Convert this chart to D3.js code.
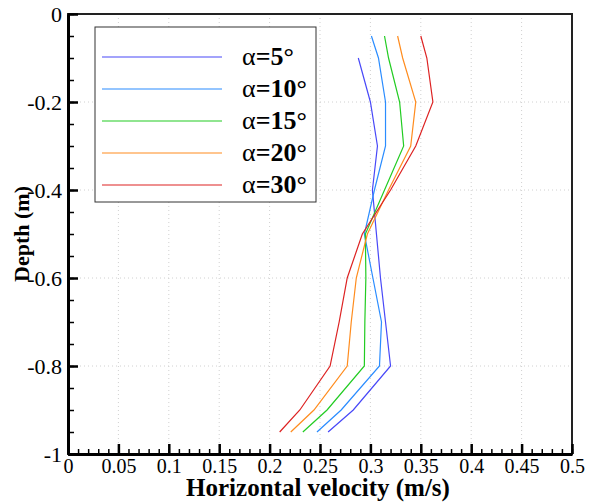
<!DOCTYPE html>
<html>
<head>
<meta charset="utf-8">
<script src="https://cdn.jsdelivr.net/npm/d3@7"></script>
<style>
  body { margin: 0; background: #fff; }
</style>
</head>
<body>
<script>
// depth levels (m)
const depths = [-0.05, -0.1, -0.2, -0.3, -0.4, -0.5, -0.6, -0.7, -0.8, -0.9, -0.95]
// horizontal velocity (m/s) per slope angle
const angles = [5, 10, 15, 20, 30]
const colors = ['#4848f8', '#2a8cff', '#22cc22', '#ff8c1e', '#dd2222']
const v5 = [null, 0.288, 0.300, 0.307, 0.302, 0.306, 0.310, 0.315, 0.320, 0.283, 0.258]
const v10 = [0.301, 0.308, 0.315, 0.315, 0.304, 0.294, 0.3025, 0.311, 0.309, 0.271, 0.247]
const v15 = [0.314, 0.318, 0.329, 0.333, 0.314, 0.295, 0.2955, 0.2945, 0.294, 0.257, 0.233]
const v20 = [0.327, 0.332, 0.345, 0.340, 0.318, 0.297, 0.286, 0.281, 0.277, 0.244, 0.221]
const v30 = [0.350, 0.356, 0.362, 0.345, 0.320, 0.292, 0.277, 0.269, 0.260, 0.230, 0.210]
const series = [v5, v10, v15, v20, v30]

const xTicks = [0, 0.05, 0.1, 0.15, 0.2, 0.25, 0.3, 0.35, 0.4, 0.45, 0.5]
const yTicks = [0, -0.2, -0.4, -0.6, -0.8, -1]

const WIDTH = 597
const HEIGHT = 503
const xLeft = 68, xRight = 572, yTop = 14, yBottom = 454
const FONT = "'Liberation Serif', 'Times New Roman', 'DejaVu Serif', serif"

const x = d3.scaleLinear().domain([0, 0.5]).range([xLeft, xRight])
const y = d3.scaleLinear().domain([0, -1]).range([yTop, yBottom])

const svg = d3.select(document.body).append('svg')
  .attr('width', WIDTH)
  .attr('height', HEIGHT)
  .attr('font-family', FONT)

// dotted grid
const grid = svg.append('g')
grid.selectAll('.gx')
  .data(xTicks.slice(1, -1))
  .enter()
  .append('line')
  .attr('x1', d => x(d)).attr('x2', d => x(d))
  .attr('y1', yTop).attr('y2', yBottom)
  .attr('stroke', '#d0d0d0')
  .attr('stroke-dasharray', '1,3')
grid.selectAll('.gy')
  .data(yTicks.slice(1, -1))
  .enter()
  .append('line')
  .attr('x1', xLeft).attr('x2', xRight)
  .attr('y1', d => y(d)).attr('y2', d => y(d))
  .attr('stroke', '#d0d0d0')
  .attr('stroke-dasharray', '1,3')

// curves
const line = d3.line()
  .defined(d => d[0] != null)
  .x(d => x(d[0]))
  .y(d => y(d[1]))

svg.append('g').selectAll('path')
  .data(series)
  .enter()
  .append('path')
  .attr('d', s => line(s.map((v, i) => [v, depths[i]])))
  .attr('fill', 'none')
  .attr('stroke', (s, i) => colors[i])
  .attr('stroke-width', 1.2)

// frame (top/right thin)
svg.append('rect')
  .attr('x', xLeft).attr('y', yTop)
  .attr('width', xRight - xLeft).attr('height', yBottom - yTop)
  .attr('fill', 'none')
  .attr('stroke', '#222')
  .attr('stroke-width', 2)

// minor ticks
const minorX = d3.range(0, 51).map(i => i / 100)
const minorY = d3.range(0, 21).map(i => -i / 20)
svg.append('g')
  .attr('transform', `translate(0,${yBottom})`)
  .call(d3.axisBottom(x).tickValues(minorX).tickSize(-5).tickFormat(''))
  .call(g => g.select('.domain').remove())
  .selectAll('line').attr('stroke-width', 1.5)
svg.append('g')
  .attr('transform', `translate(${xLeft},0)`)
  .call(d3.axisLeft(y).tickValues(minorY).tickSize(-6).tickFormat(''))
  .call(g => g.select('.domain').remove())
  .selectAll('line').attr('stroke-width', 1.5)

// major axes
const xAxis = svg.append('g')
  .attr('transform', `translate(0,${yBottom})`)
  .call(d3.axisBottom(x).tickValues(xTicks).tickSizeInner(-10).tickSizeOuter(0).tickPadding(5).tickFormat(d => String(d)))
  .attr('font-family', FONT)
  .attr('font-size', 20)
xAxis.select('.domain').attr('stroke-width', 3)
xAxis.selectAll('line').attr('stroke-width', 2.5)
xAxis.selectAll('text').attr('fill', '#000')

const yAxis = svg.append('g')
  .attr('transform', `translate(${xLeft},0)`)
  .call(d3.axisLeft(y).tickValues(yTicks).tickSizeInner(-10).tickSizeOuter(0).tickPadding(6).tickFormat(d => String(d)))
  .attr('font-family', FONT)
  .attr('font-size', 22)
yAxis.select('.domain').attr('stroke-width', 3)
yAxis.selectAll('line').attr('stroke-width', 2.5)
yAxis.selectAll('text').attr('fill', '#000')

// axis titles
svg.append('text')
  .attr('x', (xLeft + xRight) / 2 - 2)
  .attr('y', 496)
  .attr('text-anchor', 'middle')
  .attr('font-size', 25)
  .attr('font-weight', 'bold')
  .text('Horizontal velocity (m/s)')

svg.append('text')
  .attr('transform', `translate(29,${234}) rotate(-90)`)
  .attr('text-anchor', 'middle')
  .attr('font-size', 22)
  .attr('font-weight', 'bold')
  .text('Depth (m)')

// legend
const legend = svg.append('g')
legend.append('rect')
  .attr('x', 95).attr('y', 27)
  .attr('width', 221).attr('height', 175)
  .attr('fill', '#fff')
  .attr('stroke', '#333')
  .attr('stroke-width', 1)

const ly = d3.scaleLinear().domain([0, 4]).range([57, 185])
const item = legend.selectAll('.item')
  .data(angles)
  .enter()
  .append('g')
item.append('line')
  .attr('x1', 102).attr('x2', 222)
  .attr('y1', (d, i) => ly(i)).attr('y2', (d, i) => ly(i))
  .attr('stroke', (d, i) => colors[i])
  .attr('stroke-width', 1.2)
const lt = item.append('text')
  .attr('x', 242)
  .attr('y', (d, i) => ly(i) + 8)
  .attr('font-size', 26)
lt.append('tspan').text('α')
lt.append('tspan').attr('font-weight', 'bold').text(d => '=' + d + '°')
</script>
</body>
</html>
